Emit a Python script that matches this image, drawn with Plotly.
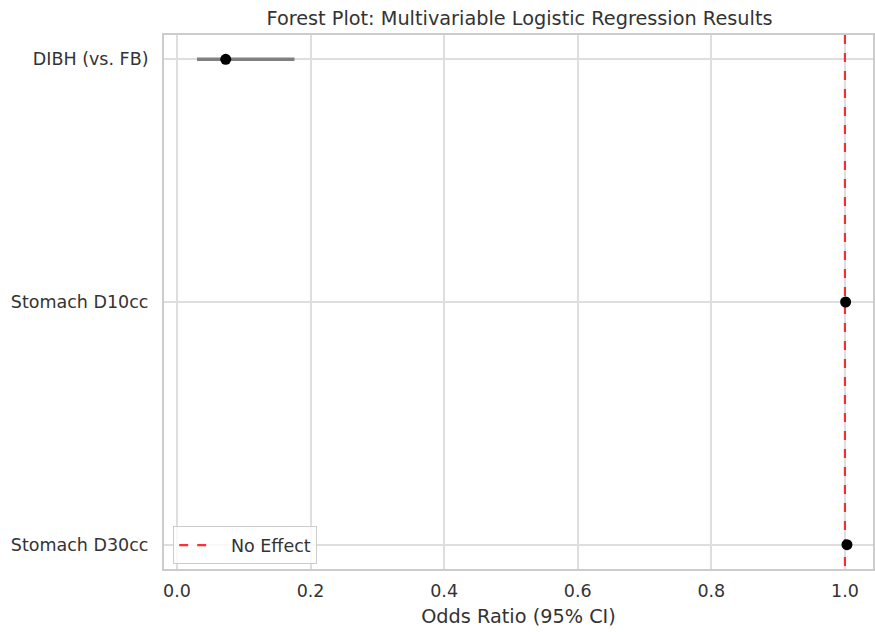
import plotly.graph_objects as go

variables = ["DIBH (vs. FB)", "Stomach D10cc", "Stomach D30cc"]
odds_ratio = [0.073, 1.001, 1.003]
ci_lower = [0.030, 0.999, 1.001]
ci_upper = [0.176, 1.003, 1.005]
x_ticks = [0.0, 0.2, 0.4, 0.6, 0.8, 1.0]

ypos = list(range(len(variables)))
err_plus = [u - o for u, o in zip(ci_upper, odds_ratio)]
err_minus = [o - l for o, l in zip(odds_ratio, ci_lower)]

text_color = "#333333"
fig = go.Figure()

fig.add_trace(go.Scatter(
    x=[1.0, 1.0], y=[-0.1, len(variables) - 0.9],
    mode="lines", name="\u00a0\u00a0\u00a0No Effect",
    line=dict(color="rgba(255,0,0,0.8)", width=2.2, dash="dash"),
))

fig.add_trace(go.Scatter(
    x=odds_ratio, y=ypos, mode="markers", showlegend=False,
    marker=dict(color="black", size=11),
    error_x=dict(type="data", symmetric=False, array=err_plus, arrayminus=err_minus,
                 color="gray", thickness=3.5, width=0),
))

fig.update_layout(
    width=875, height=632,
    margin=dict(l=164, r=0, t=35, b=63),
    paper_bgcolor="white", plot_bgcolor="white",
    font=dict(family="DejaVu Sans", size=17.5, color=text_color),
    title=dict(text="Forest Plot: Multivariable Logistic Regression Results",
               x=(164 + 875) / 2 / 875, xanchor="center", y=1 - 18 / 632, yanchor="middle",
               font=dict(size=19.3, color=text_color)),
    xaxis=dict(range=[-0.0194, 1.042], tickvals=x_ticks,
               ticktext=[f"{v:.1f}" for v in x_ticks],
               showgrid=True, gridcolor="#dedede", gridwidth=2,
               showline=True, linecolor="#cccccc", linewidth=2, mirror=True,
               zeroline=False, ticks="", ticklabelstandoff=5,
               title=dict(text="Odds Ratio (95% CI)", font=dict(size=19.3), standoff=9)),
    yaxis=dict(range=[len(variables) - 0.9, -0.1], tickvals=ypos, ticktext=variables,
               showgrid=True, gridcolor="#dedede", gridwidth=2,
               showline=True, linecolor="#cccccc", linewidth=2, mirror=True,
               zeroline=False, ticks="", ticklabelstandoff=10),
    legend=dict(x=0.013, y=0.009, xanchor="left", yanchor="bottom",
                bgcolor="rgba(255,255,255,0.8)", bordercolor="#cccccc", borderwidth=1,
                font=dict(size=17.5)),
)

fig.write_html("out.html", config={"displayModeBar": False},
               post_script="document.body.style.margin='0';")
